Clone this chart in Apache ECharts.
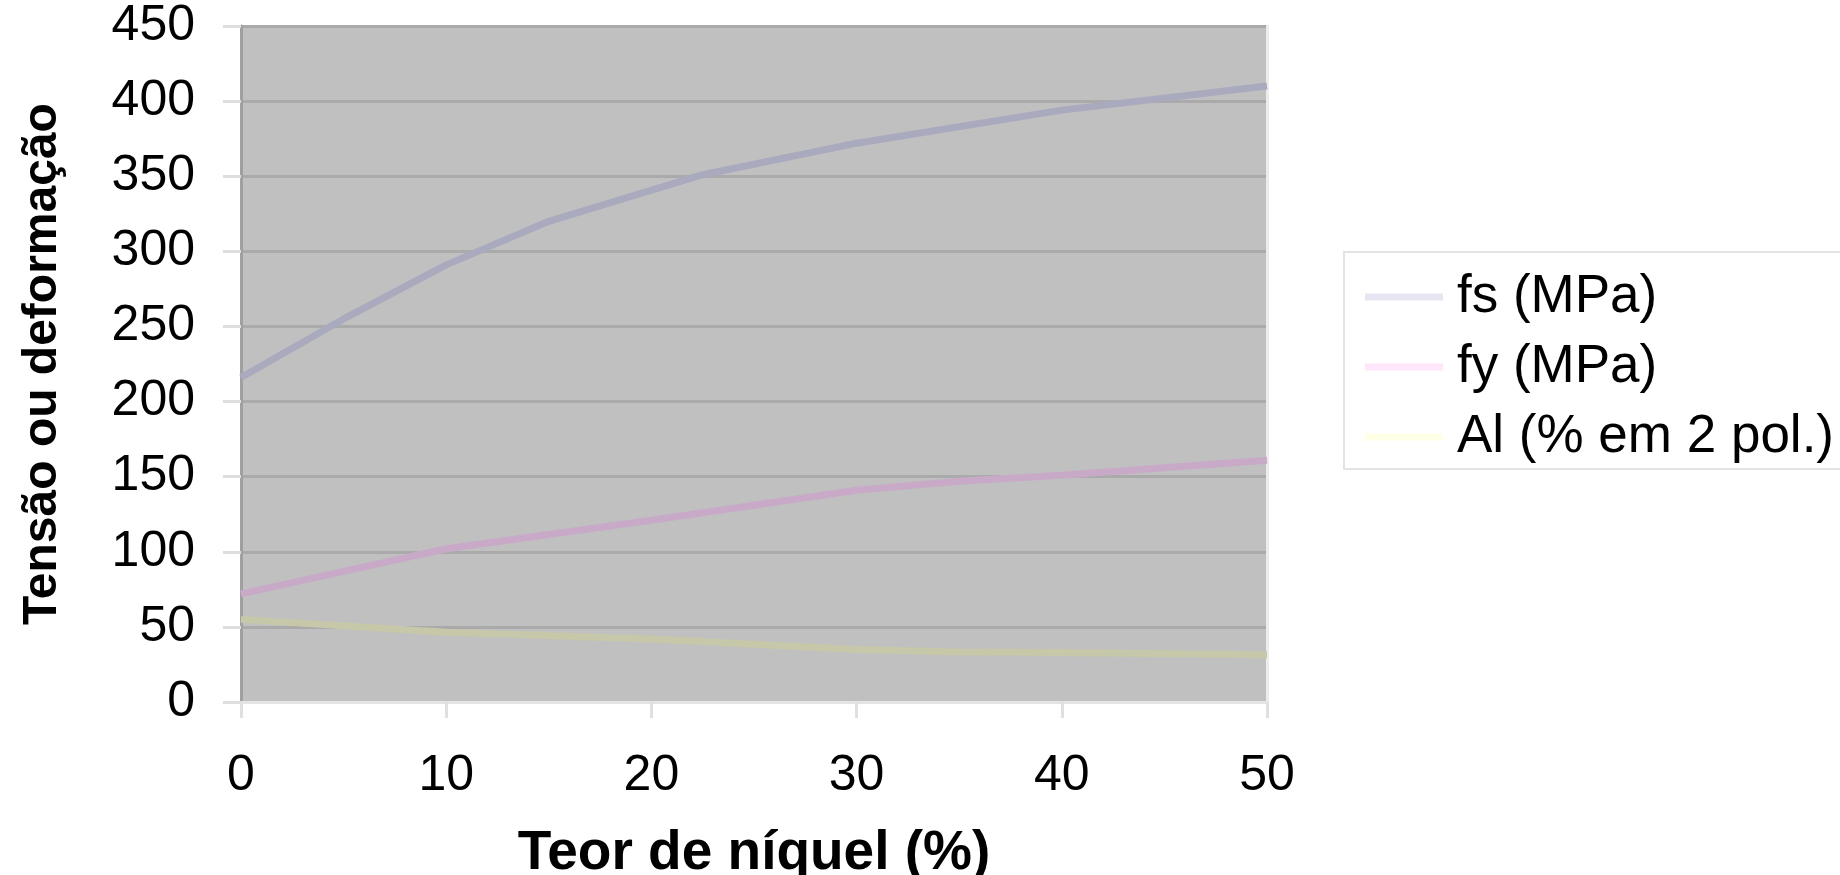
<!DOCTYPE html>
<html>
<head>
<meta charset="utf-8">
<script src="https://cdn.jsdelivr.net/npm/echarts@6/dist/echarts.min.js"></script>
<style>
  html, body { margin: 0; padding: 0; background: #fff; }
  #chart { width: 1840px; height: 875px; }
</style>
</head>
<body>
<div id="chart"></div>
<script>
// nickel content (%) where each curve was sampled
const fsNickel = [0, 5, 10, 15, 22.5, 30, 40, 50];
const fsValues = [216, 255, 291, 320, 351, 372, 394, 410];

const fyNickel = [0, 5, 10, 20, 30, 35, 40, 50];
const fyValues = [72, 87, 102, 121, 141, 147, 151, 161];

const alNickel = [0, 10, 20, 30, 35, 40, 50];
const alValues = [55, 46.5, 42, 35, 33.3, 33, 31.5];

const seriesNames = ['fs (MPa)', 'fy (MPa)', 'Al (% em 2 pol.)'];
const xTicks = [0, 10, 20, 30, 40, 50];
const yTicks = [0, 50, 100, 150, 200, 250, 300, 350, 400, 450];

const FONT = '"Liberation Sans", Arial, sans-serif';

// pair up x and y arrays for a value axis
function pairs(xs, ys) {
  return xs.map((x, i) => [x, ys[i]]);
}

let chart = echarts.init(document.getElementById('chart'));

let option = {
  backgroundColor: '#ffffff',
  animation: false,
  textStyle: { fontFamily: FONT, color: '#000' },
  grid: {
    left: 241, top: 26, right: 573, bottom: 173,
    outerBoundsMode: 'none',
    show: true, backgroundColor: '#C0C0C0', borderWidth: 0
  },
  legend: {
    orient: 'vertical',
    left: 1344, top: 252,
    padding: [17, 60, 4, 21],
    borderColor: '#E3E3E3', borderWidth: 2,
    icon: 'rect',
    itemWidth: 78, itemHeight: 7, itemGap: 14,
    textStyle: { fontFamily: FONT, fontSize: 53, lineHeight: 56, color: '#000', padding: [0, 0, 0, 9] },
    data: [
      { name: seriesNames[0], itemStyle: { color: '#E6E6F2' } },
      { name: seriesNames[1], itemStyle: { color: '#FFE6FA' } },
      { name: seriesNames[2], itemStyle: { color: '#FFFFE6' } }
    ]
  },
  xAxis: {
    type: 'value',
    min: xTicks[0], max: xTicks[xTicks.length - 1], interval: 10,
    name: 'Teor de níquel (%)',
    nameLocation: 'middle', nameGap: 124,
    nameTextStyle: { fontFamily: FONT, fontSize: 55, fontWeight: 'bold', color: '#000' },
    axisLine: { show: true, lineStyle: { color: '#E4E4E4', width: 3 } },
    axisTick: { show: true, length: 16, lineStyle: { color: '#E0E0E0', width: 3 } },
    axisLabel: { margin: 49, fontSize: 50, fontFamily: FONT, color: '#000' },
    splitLine: { show: false }
  },
  yAxis: [{
    type: 'value',
    min: yTicks[0], max: yTicks[yTicks.length - 1], interval: 50,
    name: 'Tensão ou deformação',
    nameLocation: 'middle', nameGap: 174,
    nameTextStyle: { fontFamily: FONT, fontSize: 48, fontWeight: 'bold', color: '#000' },
    axisLine: { show: true, lineStyle: { color: '#A0A0A0', width: 3 } },
    axisTick: { show: true, length: 18, lineStyle: { color: '#DEDEDE', width: 3 } },
    axisLabel: { margin: 46, fontSize: 50, fontFamily: FONT, color: '#000' },
    splitLine: { show: true, lineStyle: { color: '#AAAAAA', width: 3 } }
  }, {
    // light right edge of the plot area
    type: 'value', position: 'right',
    min: yTicks[0], max: yTicks[yTicks.length - 1],
    axisLine: { show: true, lineStyle: { color: '#ECECEC', width: 3 } },
    axisTick: { show: false }, axisLabel: { show: false }, splitLine: { show: false }
  }],
  series: [
    {
      name: seriesNames[0], type: 'line', symbol: 'none',
      data: pairs(fsNickel, fsValues),
      lineStyle: { color: '#AAAABF', width: 7 }, itemStyle: { color: '#AAAABF' }
    },
    {
      name: seriesNames[1], type: 'line', symbol: 'none',
      data: pairs(fyNickel, fyValues),
      lineStyle: { color: '#C8AAC8', width: 7 }, itemStyle: { color: '#C8AAC8' }
    },
    {
      name: seriesNames[2], type: 'line', symbol: 'none',
      data: pairs(alNickel, alValues),
      lineStyle: { color: '#C7C7A9', width: 7 }, itemStyle: { color: '#C7C7A9' }
    }
  ]
};

chart.setOption(option);
</script>
</body>
</html>
